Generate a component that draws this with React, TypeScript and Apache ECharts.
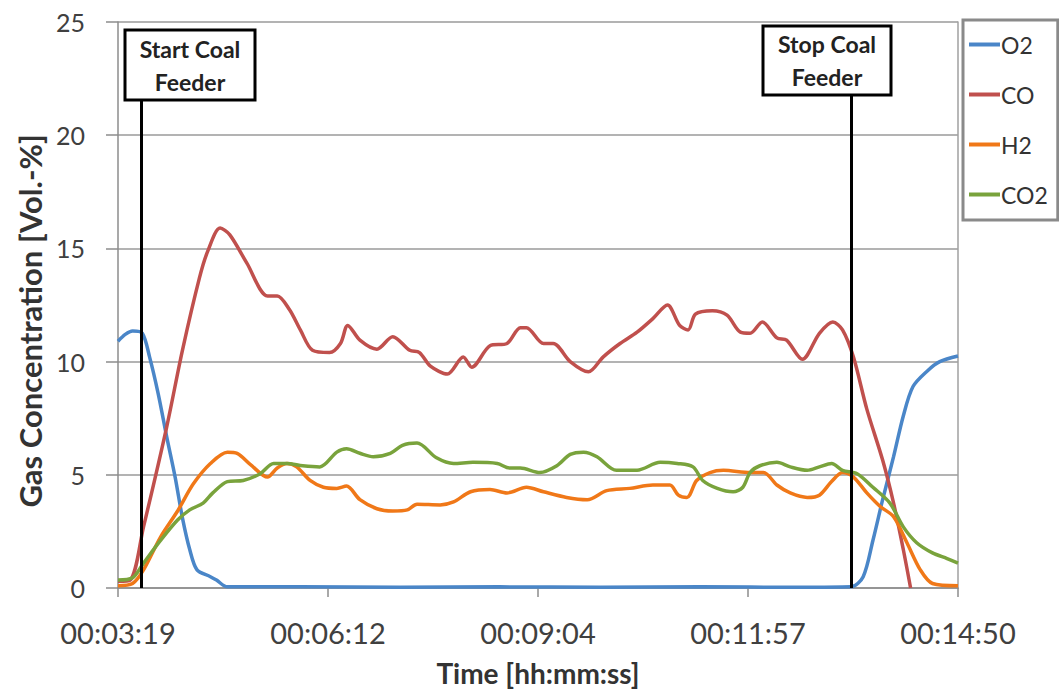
import React, { useEffect, useRef } from "react";
import * as echarts from "echarts";

// Time in seconds after 00:03:19
const xTickLabels = ["00:03:19", "00:06:12", "00:09:04", "00:11:57", "00:14:50"];
const xInterval = 172.75;

const o2Time = [0, 6, 12, 20, 26, 33, 40, 47, 53, 59, 65, 76, 81, 90, 150, 232, 314, 397, 479, 561, 603, 613, 621, 629, 638, 646, 654, 666, 676, 691];
const o2Values = [10.9, 11.2, 11.35, 11.25, 10.2, 8.6, 6.7, 4.9, 3.1, 1.7, 0.8, 0.5, 0.35, 0.05, 0.06, 0.03, 0.05, 0.03, 0.05, 0.03, 0.05, 0.5, 2.1, 3.9, 5.8, 7.6, 8.9, 9.6, 10.0, 10.25];

const coTime = [0, 10, 21, 40, 53, 67, 74, 84, 92, 106, 123, 131, 141, 150, 160, 174, 183, 189, 199, 213, 226, 240, 248, 257, 271, 284, 291, 306, 320, 331, 336, 350, 358, 372, 387, 399, 413, 427, 440, 452, 462, 469, 475, 489, 501, 512, 520, 530, 542, 550, 563, 577, 588, 596, 605, 616, 629, 638, 646, 652];
const coValues = [0.3, 0.35, 2.7, 7.1, 10.5, 13.7, 14.9, 15.9, 15.6, 14.35, 12.9, 12.9, 12.3, 11.4, 10.5, 10.4, 10.8, 11.6, 10.95, 10.55, 11.1, 10.5, 10.4, 9.8, 9.45, 10.2, 9.75, 10.7, 10.8, 11.5, 11.5, 10.8, 10.8, 10.0, 9.55, 10.2, 10.8, 11.3, 11.9, 12.5, 11.6, 11.4, 12.1, 12.25, 12.05, 11.3, 11.25, 11.75, 11.05, 10.95, 10.1, 11.25, 11.75, 11.4, 10.2, 7.9, 5.65, 3.75, 1.7, 0.0];

const h2Time = [0, 12, 21, 35, 49, 62, 76, 90, 98, 109, 123, 131, 139, 147, 158, 169, 180, 188, 199, 213, 226, 238, 246, 265, 276, 290, 306, 320, 336, 350, 369, 386, 402, 421, 440, 454, 461, 468, 476, 487, 498, 520, 531, 542, 553, 567, 577, 587, 596, 605, 616, 627, 638, 649, 660, 670, 691];
const h2Values = [0.1, 0.2, 0.8, 2.25, 3.4, 4.6, 5.5, 6.0, 5.95, 5.45, 4.9, 5.3, 5.5, 5.35, 4.75, 4.45, 4.4, 4.5, 3.9, 3.5, 3.4, 3.45, 3.7, 3.67, 3.8, 4.25, 4.35, 4.2, 4.45, 4.25, 4.0, 3.9, 4.3, 4.4, 4.55, 4.55, 4.1, 4.0, 4.75, 5.1, 5.2, 5.1, 5.1, 4.55, 4.2, 4.0, 4.1, 4.7, 5.1, 4.9, 4.2, 3.6, 3.15, 2.0, 0.8, 0.2, 0.1];

const co2Time = [0, 12, 21, 35, 49, 59, 70, 78, 90, 103, 117, 128, 139, 152, 166, 180, 188, 199, 210, 224, 234, 246, 262, 276, 292, 312, 322, 331, 347, 361, 372, 383, 394, 410, 427, 446, 460, 473, 481, 493, 506, 514, 520, 528, 542, 553, 567, 577, 587, 596, 608, 621, 635, 646, 657, 670, 682, 691];
const co2Values = [0.35, 0.45, 1.1, 2.1, 3.0, 3.45, 3.75, 4.2, 4.7, 4.75, 5.05, 5.5, 5.5, 5.4, 5.35, 6.0, 6.15, 5.95, 5.8, 5.95, 6.3, 6.4, 5.75, 5.5, 5.55, 5.5, 5.3, 5.3, 5.1, 5.4, 5.9, 6.0, 5.8, 5.2, 5.2, 5.55, 5.5, 5.35, 4.75, 4.4, 4.25, 4.45, 5.1, 5.4, 5.55, 5.35, 5.2, 5.35, 5.5, 5.2, 5.05, 4.45, 3.75, 2.7, 2.0, 1.55, 1.3, 1.1];

const startFeederTime = 19;
const stopFeederTime = 603;

const seriesNames = ["O2", "CO", "H2", "CO2"];
const seriesColors = ["#4a86c8", "#c0504d", "#f07818", "#79a33c"];

const pairs = (t: number[], v: number[]) => t.map((x, i) => [x, v[i]]);

const FONT = "Lato, 'Open Sans', sans-serif";

export default function App() {
  const ref = useRef<HTMLDivElement>(null);
  useEffect(() => {
    if (!ref.current) return;
    const chart = echarts.init(ref.current, undefined, { renderer: "svg" });
    const datasets = [
      pairs(o2Time, o2Values),
      pairs(coTime, coValues),
      pairs(h2Time, h2Values),
      pairs(co2Time, co2Values),
    ];
    const series: any[] = seriesNames.map((name, i) => ({
      name,
      type: "line",
      data: datasets[i],
      showSymbol: false,
      smooth: 0.3,
      lineStyle: { color: seriesColors[i], width: 3.5 },
      itemStyle: { color: seriesColors[i] },
    }));
    series[3].markLine = {
      silent: true,
      symbol: "none",
      label: { show: false },
      lineStyle: { color: "#000", width: 3, type: "solid" },
      data: [
        [{ coord: [startFeederTime, 21.55] }, { coord: [startFeederTime, 0] }],
        [{ coord: [stopFeederTime, 21.8] }, { coord: [stopFeederTime, 0] }],
      ],
    };

    const boxText = {
      fontSize: 23,
      fontWeight: "bold",
      fontFamily: FONT,
      fill: "#222",
      align: "center",
      verticalAlign: "middle",
      lineHeight: 33,
    };

    chart.setOption({
      animation: false,
      textStyle: { fontFamily: FONT },
      grid: { left: 118, right: 101, top: 22, bottom: 105, outerBoundsMode: "none", containLabel: false },
      legend: {
        data: seriesNames.map((n, i) => ({ name: n, icon: "rect", itemStyle: { color: seriesColors[i] } })),
        orient: "vertical",
        left: 963,
        top: 20,
        itemWidth: 31,
        itemHeight: 4,
        itemGap: 27,
        padding: [13, 10, 14, 6],
        borderColor: "#8a8a8a",
        borderWidth: 3,
        textStyle: { fontSize: 23, color: "#333", fontFamily: FONT, padding: [0, 0, 0, -4] },
      },
      xAxis: {
        type: "value",
        min: 0,
        max: 691,
        interval: xInterval,
        name: "Time [hh:mm:ss]",
        nameLocation: "middle",
        nameGap: 71,
        nameTextStyle: { fontSize: 28, fontWeight: "bold", color: "#333", fontFamily: FONT },
        axisLine: { show: true, lineStyle: { color: "#8c8c8c", width: 1.5 } },
        axisTick: { show: true, length: 9, lineStyle: { color: "#8c8c8c", width: 1.5 } },
        splitLine: { show: false },
        axisLabel: {
          fontSize: 29,
          color: "#404040",
          margin: 30,
          fontFamily: FONT,
          formatter: (v: number) => xTickLabels[Math.round(v / xInterval)] ?? "",
        },
      },
      yAxis: [
        {
          type: "value",
          min: 0,
          max: 25,
          interval: 5,
          axisLine: { show: true, lineStyle: { color: "#8c8c8c", width: 1.5 } },
          axisTick: { show: true, length: 12, lineStyle: { color: "#8c8c8c", width: 1.5 } },
          splitLine: { show: true, lineStyle: { color: "#9a9a9a", width: 1.5 } },
          axisLabel: { fontSize: 25, color: "#404040", margin: 33, fontFamily: FONT },
        },
        {
          type: "value",
          min: 0,
          max: 25,
          position: "right",
          axisLine: { show: true, lineStyle: { color: "#a0a0a0", width: 1.5 } },
          axisTick: { show: false },
          axisLabel: { show: false },
          splitLine: { show: false },
        },
      ],
      series,
      graphic: [
        {
          type: "text",
          x: 30,
          y: 321,
          rotation: Math.PI / 2,
          style: {
            text: "Gas Concentration [Vol.-%]",
            fontSize: 31,
            fontWeight: "bold",
            fontFamily: FONT,
            fill: "#333",
            align: "center",
            verticalAlign: "middle",
          },
        },
        {
          type: "rect",
          z: 100,
          shape: { x: 125, y: 30, width: 130, height: 70 },
          style: { fill: "#fff", stroke: "#000", lineWidth: 3 },
        },
        {
          type: "text",
          z: 101,
          x: 190,
          y: 65,
          style: { ...boxText, text: "Start Coal\nFeeder" },
        },
        {
          type: "rect",
          z: 100,
          shape: { x: 763, y: 26, width: 128, height: 69 },
          style: { fill: "#fff", stroke: "#000", lineWidth: 3 },
        },
        {
          type: "text",
          z: 101,
          x: 827,
          y: 60,
          style: { ...boxText, text: "Stop Coal\nFeeder" },
        },
      ],
    });
    return () => chart.dispose();
  }, []);
  return (
    <div
      ref={ref}
      style={{ position: "fixed", left: 0, top: 0, width: 1059, height: 693, background: "#fff" }}
    />
  );
}
